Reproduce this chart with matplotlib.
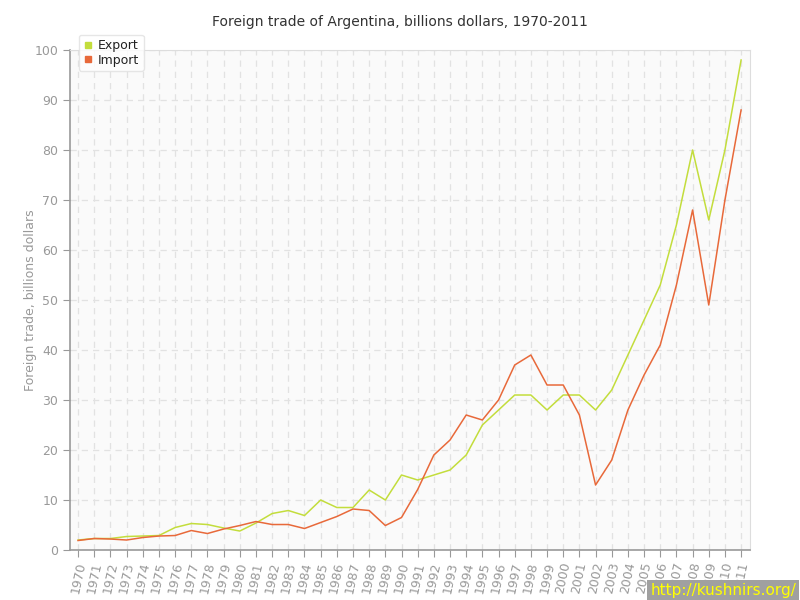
import numpy as np
import matplotlib
matplotlib.use('Agg')
import matplotlib.pyplot as plt

# data
years = list(range(1970, 2012))
export = [2.0, 2.3, 2.3, 2.7, 2.8, 2.9, 4.5, 5.3, 5.1, 4.4,
          3.8, 5.4, 7.3, 7.9, 6.9, 10.0, 8.5, 8.5, 12.0, 10.0,
          15.0, 14.0, 15.0, 16.0, 19.0, 25.0, 28.0, 31.0, 31.0, 28.0,
          31.0, 31.0, 28.0, 32.0, 39.0, 46.0, 53.0, 65.0, 80.0, 66.0,
          80.0, 98.0]
imports = [1.9, 2.3, 2.2, 2.0, 2.5, 2.8, 2.9, 3.9, 3.3, 4.2,
           4.9, 5.7, 5.1, 5.1, 4.3, 5.5, 6.7, 8.2, 7.9, 4.9,
           6.5, 12.1, 19.0, 22.0, 27.0, 26.0, 30.0, 37.0, 39.0, 33.0,
           33.0, 27.0, 13.0, 18.0, 28.0, 35.0, 41.0, 53.0, 68.0, 49.0,
           70.0, 88.0]

export_color = '#c3dd3c'
import_color = '#e8693a'
grey = '#999999'

fig = plt.figure(figsize=(8, 6), dpi=100)
ax = fig.add_axes([0.0875, 0.0833, 0.85, 0.8334])
ax.set_facecolor('#fafafa')

ax.plot(years, export, color=export_color, lw=1.1, label='Export')
ax.plot(years, imports, color=import_color, lw=1.1, label='Import')

ax.set_xlim(1969.5, 2011.55)
ax.set_ylim(0, 100)
ax.set_xticks(years)
ax.set_xticklabels([str(y) for y in years], rotation=78, ha='center')
ax.set_yticks(range(0, 101, 10))
ax.grid(True, color='#e2e2e2', ls=(0, (5, 4)), lw=0.9)
ax.set_axisbelow(True)

for s in ['top', 'right']:
    ax.spines[s].set_color('#dddddd')
for s in ['left', 'bottom']:
    ax.spines[s].set_color(grey)
    ax.spines[s].set_linewidth(1.2)
ax.tick_params(colors=grey, labelsize=9, length=5, direction='out')
ax.tick_params(axis='x', pad=3)

ax.set_ylabel('Foreign trade, billions dollars', color=grey, fontsize=9)
ax.yaxis.set_label_coords(-0.049, 0.5)
fig.suptitle('Foreign trade of Argentina, billions dollars, 1970-2011',
             y=0.975, fontsize=10, color='#333333')

handles = [plt.Line2D([], [], marker='s', ls='', color=c, markersize=5)
           for c in (export_color, import_color)]
leg = ax.legend(handles, ['Export', 'Import'], loc='upper left',
                bbox_to_anchor=(0.013, 1.03), borderaxespad=0, fontsize=9,
                frameon=True, fancybox=True, handletextpad=0.4,
                borderpad=0.35, labelspacing=0.1, handlelength=0.8,
                edgecolor='#e0e0e0')
leg.get_frame().set_facecolor('white')
leg.set_zorder(5)
for t in leg.get_texts():
    t.set_color('#222222')

fig.text(0.995, 0.003, 'http://kushnirs.org/', color='#ffff00', fontsize=11,
         ha='right', va='bottom',
         bbox=dict(boxstyle='square,pad=0.2', fc='#a0a0a0', ec='none'))

fig.savefig('out.png', dpi=100)
